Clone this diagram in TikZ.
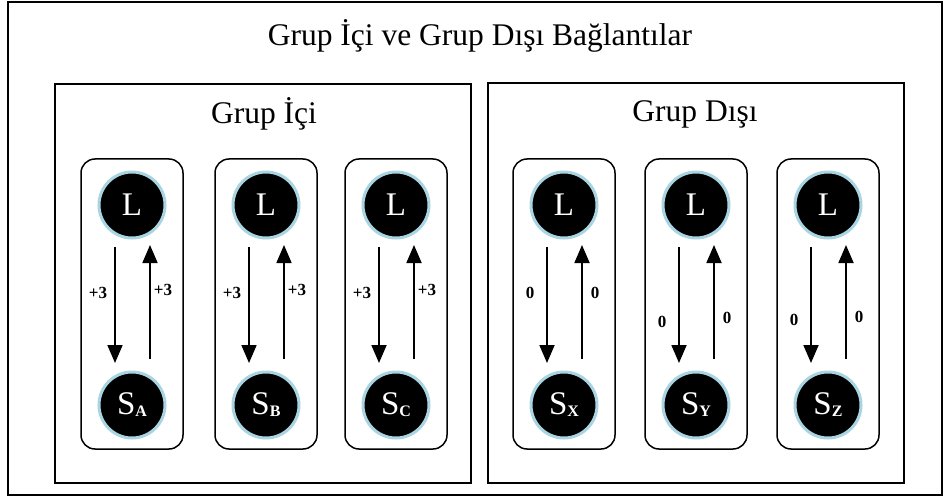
\documentclass[tikz,border=0pt]{standalone}
\usepackage{fontspec}
\setmainfont{Liberation Serif}
\usetikzlibrary{arrows.meta}
\definecolor{ringblue}{HTML}{A9D5E3}

\begin{document}
\begin{tikzpicture}[x=1pt,y=-1pt,
  frame/.style={draw=black, line width=1.8pt},
  lane/.style={draw=black, line width=1.5pt, rounded corners=14pt},
  agent/.style={circle, fill=black, draw=ringblue, line width=3pt,
    minimum size=66pt, inner sep=0pt, text=white,
    font=\fontsize{33}{33}\selectfont},
  link/.style={line width=1.8pt, -{Triangle[width=15pt,length=18pt]}},
  weight/.style={font=\fontsize{17}{17}\selectfont\bfseries},
  heading/.style={font=\fontsize{31.5}{32}\selectfont}
]
\useasboundingbox (0,0) rectangle (945,500);

% frames
\draw[frame] (8,2) rectangle (942,495);
\draw[frame] (55,84) rectangle (471,483);
\draw[frame] (488,83) rectangle (904,483);

% headings
\node[heading] (title) at (480,36) {Grup İçi ve Grup Dışı Bağlantılar};
\node[heading] (ingroup) at (264,114) {Grup İçi};
\node[heading] (outgroup) at (695,114) {Grup Dışı};

% one lane per leader/follower pair
\foreach \cx/\sub/\w/\ly/\ry [count=\i] in
  {132/A/+3/293/290, 266/B/+3/293/290, 396/C/+3/293/290,
   564/X/0/293/293, 696/Y/0/322/318, 828/Z/0/320/317} {
  \draw[lane] (\cx-51,159) rectangle (\cx+51,449);
  \node[agent] (L\i) at (\cx,205) {L};
  \node[agent] (S\i) at (\cx,405)
    {S\raisebox{-2pt}{\fontsize{16}{16}\selectfont\bfseries \sub}};
  \draw[link] ([shift={(-17,42)}]L\i.center) -- ([shift={(-17,-42)}]S\i.center);
  \draw[link] ([shift={(18,-46)}]S\i.center) -- ([shift={(18,40)}]L\i.center);
  \node[weight] (wd\i) at (\cx-34,\ly) {\w};
  \node[weight] (wu\i) at (\cx+31,\ry) {\w};
}
\end{tikzpicture}
\end{document}
